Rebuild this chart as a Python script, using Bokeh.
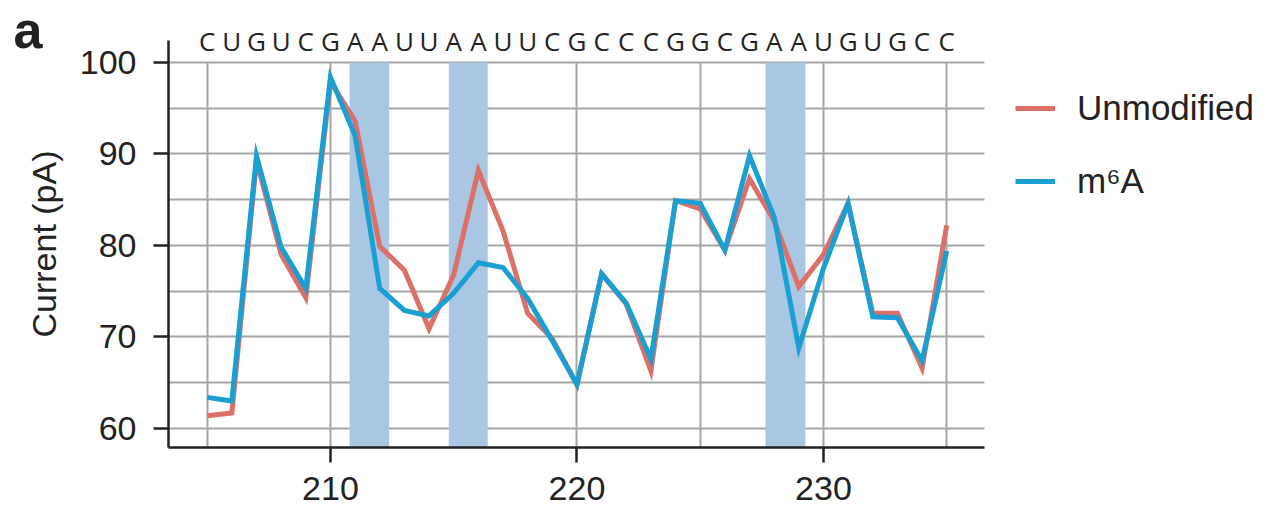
from bokeh.plotting import figure
from bokeh.models import (Range1d, FixedTicker, Legend, LegendItem, Label, ColumnDataSource)
from bokeh.core.properties import value
from bokeh.embed import file_html
from bokeh.resources import INLINE

positions = list(range(205, 236))
sequence = list("CUGUCGAAUUAAUUCGCCCGGCGAAUGUGCC")
unmodified = [61.4, 61.7, 89.3, 79.0, 74.3, 97.9, 93.6, 79.9, 77.3, 70.9,
              76.8, 88.2, 81.6, 72.6, 69.8, 64.8, 76.9, 73.6, 66.3, 84.9,
              84.0, 79.5, 87.3, 82.7, 75.5, 79.0, 84.6, 72.6, 72.6, 66.6, 82.2]
m6a = [63.4, 63.0, 89.8, 79.8, 75.3, 98.4, 92.0, 75.3, 72.9, 72.3,
       74.8, 78.1, 77.6, 74.2, 69.6, 64.8, 76.9, 73.7, 67.6, 84.9,
       84.6, 79.5, 89.8, 83.1, 68.8, 77.5, 84.6, 72.2, 72.1, 67.4, 79.4]
highlight_start = [210.78, 214.8, 227.65]
highlight_end = [212.38, 216.38, 229.27]
highlight_top = 100
x_ticks = [210, 220, 230]
x_grid = [205, 210, 215, 220, 225, 230, 235]
y_ticks = [60, 70, 80, 90, 100]
y_grid = [60, 65, 70, 75, 80, 85, 90, 95, 100]

# visible axes box (data units)
X0, X1 = 203.43, 236.53
Y0, Y1 = 57.92, 102.4
W, H = 1263, 510
PX_X = 24.65   # pixels per x unit
PX_Y = 9.15    # pixels per y unit
LEFT, BOTTOM = 168, 447   # pixel position of the axes corner

FONT = "Liberation Sans"
RED = "#DC6F68"
BLUE = "#1A9FD3"
BAR = "#A9C6E2"
GRID = "#A5A5A5"
TXT = "#222222"

x_range = Range1d(X0 - LEFT / PX_X, X0 + (W - LEFT) / PX_X)
y_range = Range1d(Y0 - (H - BOTTOM) / PX_Y, Y0 + BOTTOM / PX_Y)

p = figure(width=W, height=H, output_backend="svg", toolbar_location=None,
           x_range=x_range, y_range=y_range,
           min_border_left=0, min_border_right=0, min_border_top=0, min_border_bottom=0)
p.min_border = 0
p.outline_line_color = None
p.background_fill_color = "white"
p.border_fill_color = "white"

# grids
p.xgrid.ticker = FixedTicker(ticks=x_grid)
p.ygrid.ticker = FixedTicker(ticks=y_grid)
grid_ok = True
try:
    p.xgrid.cross_bounds = (Y0, highlight_top)
    p.ygrid.cross_bounds = (X0, X1)
except Exception:
    grid_ok = False
for g in (p.xgrid, p.ygrid):
    g.grid_line_color = GRID
    g.grid_line_width = 2
    g.level = "underlay"
if not grid_ok:
    p.xgrid.visible = False
    p.ygrid.visible = False
    p.segment(x0=x_grid, y0=[Y0] * len(x_grid), x1=x_grid, y1=[highlight_top] * len(x_grid),
              line_color=GRID, line_width=2)
    p.segment(x0=[X0] * len(y_grid), y0=y_grid, x1=[X1] * len(y_grid), y1=y_grid,
              line_color=GRID, line_width=2)

# highlighted A positions
p.quad(left=highlight_start, right=highlight_end, bottom=[Y0] * len(highlight_start),
       top=[highlight_top] * len(highlight_start), fill_color=BAR, line_color=None)

r_unmod = p.line(positions, unmodified, line_color=RED, line_width=5, line_join="miter")
r_m6a = p.line(positions, m6a, line_color=BLUE, line_width=5, line_join="miter")

# axes drawn at fixed locations
xa = p.xaxis[0]
xa.ticker = FixedTicker(ticks=x_ticks)
xa.fixed_location = Y0
xa.bounds = (X0, X1)
ya = p.yaxis[0]
ya.ticker = FixedTicker(ticks=y_ticks)
ya.fixed_location = X0
ya.bounds = (Y0, Y1)
ya.axis_label = "Current (pA)"
for ax in (xa, ya):
    ax.axis_line_color = TXT
    ax.axis_line_width = 2.5
    ax.major_tick_line_color = TXT
    ax.major_tick_line_width = 2.5
    ax.major_tick_out = 15
    ax.major_tick_in = 0
    ax.minor_tick_line_color = None
    ax.major_label_text_font = FONT
    ax.major_label_text_font_size = "34px"
    ax.major_label_text_color = TXT
    ax.major_label_standoff = 14
ya.major_label_standoff = 17
ya.axis_label_text_font = FONT
ya.axis_label_text_font_size = "34px"
ya.axis_label_text_font_style = "normal"
ya.axis_label_text_color = TXT
ya.axis_label_standoff = 14

# sequence letters above the axes
seq_y = Y0 + (BOTTOM - 40.5) / PX_Y
seq_src = ColumnDataSource(data=dict(x=positions, y=[seq_y] * len(positions), t=sequence))
p.text(x="x", y="y", text="t", source=seq_src, text_align="center",
       text_baseline="middle", text_font=value("Open Sans"),
       text_font_size=value("26px"), text_color=TXT)

# legend
legend = Legend(items=[LegendItem(label="Unmodified", renderers=[r_unmod]),
                       LegendItem(label="m\u2076A", renderers=[r_m6a])],
                location=(1015, 309))
legend.label_text_font = FONT
legend.label_text_font_size = "35px"
legend.label_text_color = TXT
legend.glyph_width = 40
legend.glyph_height = 36
legend.label_height = 36
legend.label_standoff = 22
legend.spacing = 33
legend.padding = 0
legend.margin = 0
legend.border_line_color = None
legend.background_fill_alpha = 0
p.add_layout(legend)

# panel letter
p.add_layout(Label(x=13, y=H - 29.5, x_units="screen", y_units="screen", text="a",
                   text_baseline="middle", text_font=FONT, text_font_style="bold",
                   text_font_size="52px", text_color=TXT))

open("out.html", "w").write(file_html(p, INLINE))
